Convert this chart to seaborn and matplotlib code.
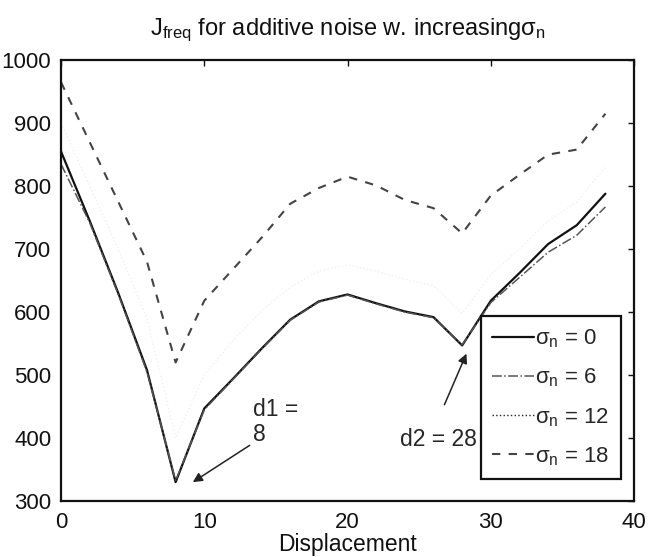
import matplotlib
matplotlib.use("Agg")
import matplotlib.pyplot as plt
import numpy as np
import pandas as pd
import seaborn as sns

# Cost J_freq against displacement for four noise levels
displacement = [0, 2, 4, 6, 8, 10, 12, 14, 16, 18, 20, 22, 24, 26, 28, 30, 32, 34, 36, 38]
j_sigma0 = [855, 745, 630, 508, 330, 447, 494, 542, 588, 617, 628, 614, 601, 592, 547, 618, 662, 708, 738, 788]
j_sigma6 = [835, 742, 628, 505, 332, 445, 493, 541, 587, 616, 627, 613, 600, 591, 548, 615, 655, 695, 722, 767]
j_sigma12 = [900, 800, 700, 590, 400, 500, 555, 602, 640, 665, 675, 665, 652, 642, 598, 660, 700, 745, 775, 830]
j_sigma18 = [965, 870, 775, 680, 520, 618, 668, 718, 772, 797, 815, 801, 778, 765, 725, 785, 818, 850, 858, 915]

sigma_levels = [0, 6, 12, 18]
x_ticks = [0, 10, 20, 30, 40]
y_ticks = [300, 400, 500, 600, 700, 800, 900, 1000]

# minima picked out by the annotations
d1_x, d1_y = 8, 330
d2_x, d2_y = 28, 547

sns.set_theme(style="white")
plt.rcParams["font.family"] = ["Liberation Sans", "DejaVu Sans"]
plt.rcParams["mathtext.default"] = "regular"

fig = plt.figure(figsize=(6.49, 5.57), dpi=100)
ax = fig.add_axes([0.094, 0.1005, 0.883, 0.7915])

series = [j_sigma0, j_sigma6, j_sigma12, j_sigma18]
styles = [
    dict(color="#111111", linestyle="-", linewidth=1.6),
    dict(color="#555555", linestyle="-.", linewidth=1.1),
    dict(color="#f2f2f2", linestyle=":", linewidth=1.0),
    dict(color="#444444", linestyle=(0, (4, 4)), linewidth=1.5),
]
for sigma, values, st in zip(sigma_levels, series, styles):
    df = pd.DataFrame({"Displacement": displacement, "J": values})
    sns.lineplot(data=df, x="Displacement", y="J", ax=ax,
                 label=rf"$\sigma_n$ = {sigma}", **st)

ax.set_xlim(0, 40)
ax.set_ylim(300, 1000)
ax.set_xticks(x_ticks)
ax.set_yticks(y_ticks)
ax.tick_params(direction="in", length=4, width=1, top=True, right=True,
               labelsize=16, pad=7, colors="#111111")
ax.tick_params(axis="x", pad=8)
for sp in ax.spines.values():
    sp.set_color("#111111")
    sp.set_linewidth(1.6)

ax.set_xlabel("Displacement", fontsize=16.5, labelpad=0, color="#111111")
ax.set_ylabel("")
ax.set_title(r"$J_{freq}$ for additive noise w. increasing$\sigma_n$",
             fontsize=17, pad=18, color="#111111")

ax.annotate("d1 =\n8", xy=(9.2, d1_y), xytext=(13.4, 426),
            fontsize=16.5, ha="left", va="center", linespacing=1.1,
            arrowprops=dict(arrowstyle="-|>", color="#222222", lw=1.1,
                            mutation_scale=14, shrinkA=0, shrinkB=0,
                            relpos=(0.05, 0.08)))
ax.annotate("d2 = 28", xy=(28.3, d2_y - 13), xytext=(29.0, 397),
            fontsize=16.5, ha="right", va="center",
            arrowprops=dict(arrowstyle="-|>", color="#222222", lw=1.1,
                            mutation_scale=14, shrinkA=16, shrinkB=0,
                            relpos=(0.45, 1.0)))

leg = ax.legend(loc="lower right", bbox_to_anchor=(0.977, 0.05), fontsize=16,
                frameon=True, fancybox=False, edgecolor="#111111",
                handlelength=1.9, handletextpad=0.05, labelspacing=0.75,
                borderpad=0.5, borderaxespad=0)
leg.get_frame().set_linewidth(1.6)
leg.get_frame().set_facecolor("white")
leg.get_frame().set_alpha(1)
leg.legend_handles[2].set_color("#222222")

fig.savefig("out.png", dpi=100, facecolor="white")
